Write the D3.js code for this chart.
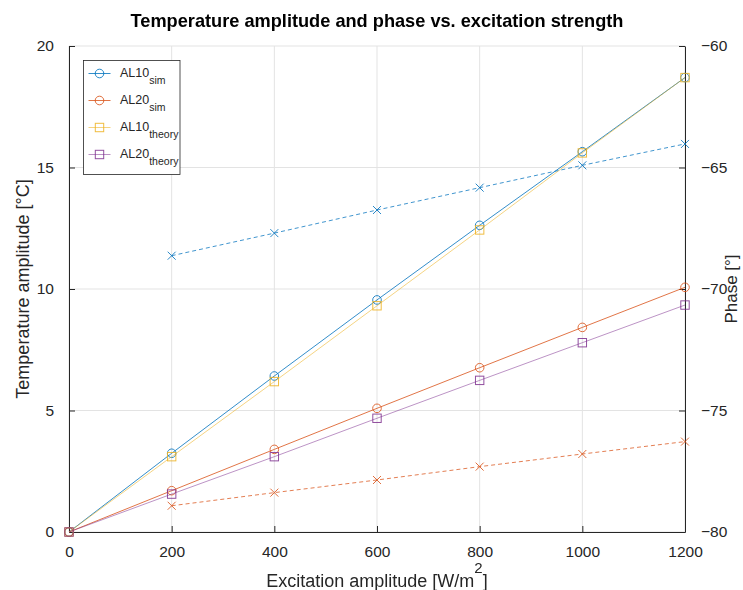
<!DOCTYPE html>
<html>
<head>
<meta charset="utf-8">
<script src="https://cdn.jsdelivr.net/npm/d3@7"></script>
<style>
  body { margin: 0; background: #fff; }
  svg text { font-family: "Liberation Sans", Arial, Helvetica, sans-serif; fill: #262626; }
</style>
</head>
<body>
<div id="chart"></div>
<script>
// values
var excitation = [0, 200, 400, 600, 800, 1000, 1200];
var al10Sim    = [0, 3.24, 6.42, 9.55, 12.62, 15.65, 18.7];
var al20Sim    = [0, 1.70, 3.40, 5.09, 6.76, 8.42, 10.07];
var al10Theory = [0, 3.10, 6.19, 9.31, 12.43, 15.60, 18.7];
var al20Theory = [0, 1.56, 3.10, 4.68, 6.24, 7.79, 9.34];

var phaseExcitation = [200, 400, 600, 800, 1000, 1200];
var al10Phase = [-68.63, -67.70, -66.75, -65.83, -64.91, -64.03];
var al20Phase = [-78.92, -78.38, -77.86, -77.31, -76.79, -76.28];

var xTicks = [0, 200, 400, 600, 800, 1000, 1200];
var ampTicks = [0, 5, 10, 15, 20];
var phaseTicks = [-80, -75, -70, -65, -60];

var W = 743, H = 590;
var margin = {left: 69, right: 58, top: 46, bottom: 58};
var w = W - margin.left - margin.right, h = H - margin.top - margin.bottom;

var svg = d3.select("#chart").append("svg").attr("width", W).attr("height", H);
var g = svg.append("g").attr("transform", "translate(" + margin.left + "," + margin.top + ")");

var x = d3.scaleLinear().domain([0, 1200]).range([0, w]);
var yL = d3.scaleLinear().domain([0, 20]).range([h, 0]);
var yR = d3.scaleLinear().domain([-80, -60]).range([h, 0]);

var axisCol = "#262626", gridCol = "#e3e3e3";
var blue = "#0072BD", orange = "#D95319", yellow = "#EDB120", purple = "#7E2F8E";

// grid
g.append("g").selectAll("line").data(xTicks).enter().append("line")
  .attr("x1", d => x(d)).attr("x2", d => x(d)).attr("y1", 0).attr("y2", h)
  .attr("stroke", gridCol).attr("stroke-width", 1);
g.append("g").selectAll("line").data(ampTicks).enter().append("line")
  .attr("x1", 0).attr("x2", w).attr("y1", d => yL(d)).attr("y2", d => yL(d))
  .attr("stroke", gridCol).attr("stroke-width", 1);

// axes (ticks pointing inward)
function styleAxis(sel) {
  sel.select(".domain").attr("stroke", axisCol);
  sel.selectAll(".tick line").attr("stroke", axisCol);
  sel.selectAll(".tick text").attr("fill", axisCol).style("font-size", "15.5px")
    .style("font-family", '"Liberation Sans", Arial, sans-serif');
}
var xAxis = g.append("g").attr("transform", "translate(0," + h + ")")
  .call(d3.axisBottom(x).tickValues(xTicks).tickSize(-6).tickSizeOuter(0).tickPadding(14).tickFormat(d3.format("d")));
styleAxis(xAxis);
xAxis.selectAll(".tick text").attr("dy", "0.71em");

var leftAxis = g.append("g")
  .call(d3.axisLeft(yL).tickValues(ampTicks).tickSize(-6).tickSizeOuter(0).tickPadding(15));
styleAxis(leftAxis);

var rightAxis = g.append("g").attr("transform", "translate(" + w + ",0)")
  .call(d3.axisRight(yR).tickValues(phaseTicks).tickSize(-6).tickSizeOuter(0).tickPadding(16));
styleAxis(rightAxis);

// series
var ampSeries = [
  {name: "AL10", sub: "sim", vals: al10Sim, color: blue, marker: "circle", width: 1, op: 0.8},
  {name: "AL20", sub: "sim", vals: al20Sim, color: orange, marker: "circle", width: 1, op: 0.8},
  {name: "AL10", sub: "theory", vals: al10Theory, color: yellow, marker: "square", width: 0.8, op: 0.7},
  {name: "AL20", sub: "theory", vals: al20Theory, color: purple, marker: "square", width: 0.8, op: 0.65}
];

function drawMarker(sel, type, color) {
  if (type == "circle") {
    sel.append("circle").attr("r", 4.3).attr("fill", "none").attr("stroke", color).attr("stroke-width", 1);
  } else if (type == "square") {
    sel.append("rect").attr("x", -4.2).attr("y", -4.2).attr("width", 8.4).attr("height", 8.4)
      .attr("fill", "none").attr("stroke", color).attr("stroke-width", 1);
  } else {
    sel.append("path").attr("d", "M-4,-4L4,4M-4,4L4,-4").attr("fill", "none").attr("stroke", color).attr("stroke-width", 1);
  }
}

var ampLine = d3.line().x(d => x(d[0])).y(d => yL(d[1]));
ampSeries.forEach(function(s) {
  var pts = excitation.map((e, i) => [e, s.vals[i]]);
  g.append("path").datum(pts).attr("d", ampLine).attr("fill", "none")
    .attr("stroke", s.color).attr("stroke-width", s.width).attr("opacity", s.op);
  g.append("g").attr("opacity", 0.85).selectAll("g").data(pts).enter().append("g")
    .attr("transform", d => "translate(" + x(d[0]) + "," + yL(d[1]) + ")")
    .each(function() { drawMarker(d3.select(this), s.marker, s.color); });
});

var phaseSeries = [
  {vals: al10Phase, color: blue},
  {vals: al20Phase, color: orange}
];
var phaseLine = d3.line().x(d => x(d[0])).y(d => yR(d[1]));
phaseSeries.forEach(function(s) {
  var pts = phaseExcitation.map((e, i) => [e, s.vals[i]]);
  g.append("path").datum(pts).attr("d", phaseLine).attr("fill", "none")
    .attr("stroke", s.color).attr("stroke-width", 1).attr("stroke-dasharray", "4,3").attr("opacity", 0.75);
  g.append("g").attr("opacity", 0.85).selectAll("g").data(pts).enter().append("g")
    .attr("transform", d => "translate(" + x(d[0]) + "," + yR(d[1]) + ")")
    .each(function() { drawMarker(d3.select(this), "x", s.color); });
});

// legend
var leg = svg.append("g").attr("transform", "translate(83.5,60.5)");
leg.append("rect").attr("width", 96.5).attr("height", 114).attr("fill", "#fff")
  .attr("stroke", axisCol).attr("stroke-width", 0.8);
ampSeries.forEach(function(s, i) {
  var row = leg.append("g").attr("transform", "translate(0," + (13 + i * 27) + ")");
  row.append("line").attr("x1", 5).attr("x2", 27).attr("y1", 0).attr("y2", 0)
    .attr("stroke", s.color).attr("stroke-width", s.width).attr("opacity", s.op);
  drawMarker(row.append("g").attr("transform", "translate(16,0)").attr("opacity", 0.85), s.marker, s.color);
  var t = row.append("text").attr("x", 36.5).attr("y", 3.5).style("font-size", "12.5px");
  t.append("tspan").text(s.name);
  t.append("tspan").attr("dy", 6.5).style("font-size", "10.5px").text(s.sub);
});

// title and labels
svg.append("text").attr("x", margin.left + w / 2).attr("y", 27).attr("text-anchor", "middle")
  .style("font-size", "18.2px").style("font-weight", "bold").style("fill", "#000")
  .text("Temperature amplitude and phase vs. excitation strength");

var xl = svg.append("text").attr("x", margin.left + w / 2).attr("y", 587).attr("text-anchor", "middle")
  .style("font-size", "18px");
xl.append("tspan").text("Excitation amplitude [W/m");
xl.append("tspan").attr("dy", -14).style("font-size", "15px").text("2");
xl.append("tspan").attr("dy", 14).text("]");

svg.append("text").attr("transform", "translate(29," + (margin.top + h / 2) + ") rotate(-90)")
  .attr("text-anchor", "middle").style("font-size", "18px")
  .text("Temperature amplitude [\u00b0C]");

svg.append("text").attr("transform", "translate(737," + (margin.top + h / 2) + ") rotate(-90)")
  .attr("text-anchor", "middle").style("font-size", "17px")
  .text("Phase [\u00b0]");
</script>
</body>
</html>
